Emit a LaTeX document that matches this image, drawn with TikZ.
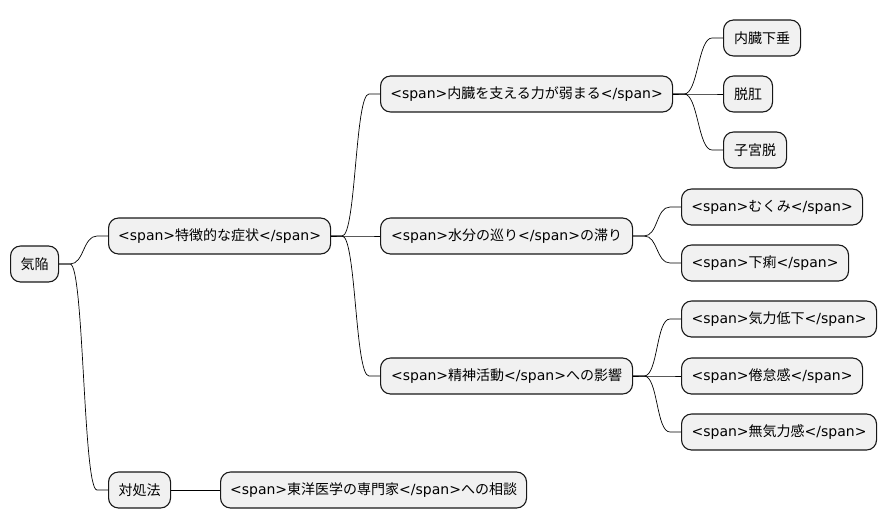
\documentclass[tikz,border=0pt]{standalone}
\usepackage{fontspec}
\setmainfont{Noto Sans CJK JP}
\newfontfamily\latfont{DejaVu Sans}
\usetikzlibrary{positioning, calc}
\usepackage{xcolor}
\definecolor{mmfill}{HTML}{F1F1F1}
\definecolor{mmline}{HTML}{181818}
\newcommand{\spo}{{\latfont <span>}}
\newcommand{\spc}{{\latfont </span>}}

\begin{document}
\begin{tikzpicture}[x=1pt, y=-1pt]
      \tikzset{
        mmnode/.style={draw=mmline, fill=mmfill, rounded corners=10pt, line width=1.1pt,
              text=black, font=\fontsize{14}{16}\selectfont, minimum height=36pt,
              inner xsep=0pt, anchor=west},
        mmlink/.style={draw=black, line width=0.7pt}
      }
      \useasboundingbox (0,0) rectangle (887,527);
      % level 0 and 1
      \node[mmnode, minimum width=48pt] (root) at (10,264) {気陥};
      \node[mmnode, minimum width=222pt] (sym) at (108,236) {\spo 特徴的な症状\spc};
      \node[mmnode, minimum width=62pt] (cope) at (108,490) {対処法};
      % level 2
      \node[mmnode, minimum width=292pt] (organ) at (380,94) {\spo 内臓を支える力が弱まる\spc};
      \node[mmnode, minimum width=252pt] (water) at (380,236) {\spo 水分の巡り\spc の滞り};
      \node[mmnode, minimum width=252pt] (mind) at (380,376) {\spo 精神活動\spc への影響};
      \node[mmnode, minimum width=306pt] (expert) at (220,490) {\spo 東洋医学の専門家\spc への相談};
      % level 3
      \node[mmnode, minimum width=77pt] (ptosis) at (723,38) {内臓下垂};
      \node[mmnode, minimum width=49pt] (anus) at (723,94) {脱肛};
      \node[mmnode, minimum width=63pt] (uterus) at (723,150) {子宮脱};
      \node[mmnode, minimum width=181pt] (swell) at (681,207) {\spo むくみ\spc};
      \node[mmnode, minimum width=167pt] (diarr) at (681,263) {\spo 下痢\spc};
      \node[mmnode, minimum width=195pt] (energy) at (681,319) {\spo 気力低下\spc};
      \node[mmnode, minimum width=181pt] (fatigue) at (681,376) {\spo 倦怠感\spc};
      \node[mmnode, minimum width=195pt] (apathy) at (681,432) {\spo 無気力感\spc};

      \foreach \p/\c in {root/sym, root/cope, sym/organ, sym/water, sym/mind,
                         organ/ptosis, organ/anus, organ/uterus, water/swell, water/diarr,
                         mind/energy, mind/fatigue, mind/apathy}
        \draw[mmlink] (\p.east) -- ++(11,0) .. controls +(14,0) and +(-14,0)
              .. ($(\c.west)+(-11,0)$) -- (\c.west);
      \draw[mmlink] (cope) -- (expert);
\end{tikzpicture}
\end{document}
